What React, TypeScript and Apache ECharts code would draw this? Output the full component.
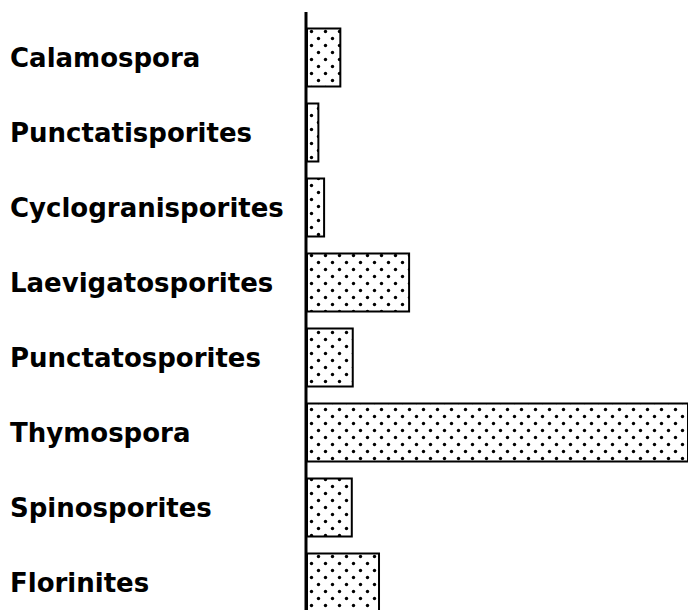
import React, { useEffect, useRef } from "react";
import * as echarts from "echarts";

const categories = [
  "Calamospora",
  "Punctatisporites",
  "Cyclogranisporites",
  "Laevigatosporites",
  "Punctatosporites",
  "Thymospora",
  "Spinosporites",
  "Florinites",
];
const values = [7.4, 2.8, 4.0, 21.8, 10.0, 85, 9.8, 15.5];
const xMax = 80;

function makeDots(): HTMLCanvasElement {
  const c = document.createElement("canvas");
  c.width = 14;
  c.height = 14;
  const ctx = c.getContext("2d")!;
  ctx.fillStyle = "#ffffff";
  ctx.fillRect(0, 0, 14, 14);
  ctx.fillStyle = "#000000";
  const pts = [
    [3.5, 3.5],
    [10.5, 10.5],
  ];
  for (const [x, y] of pts) {
    ctx.beginPath();
    ctx.arc(x, y, 1.7, 0, Math.PI * 2);
    ctx.fill();
  }
  return c;
}

export default function App() {
  const ref = useRef<HTMLDivElement>(null);
  useEffect(() => {
    if (!ref.current) return;
    const chart = echarts.init(ref.current, null, { renderer: "svg" });
    const dots = makeDots();
    chart.setOption({
      animation: false,
      backgroundColor: "#ffffff",
      grid: { left: 306, top: 20, right: 0, bottom: 0, containLabel: false },
      xAxis: {
        type: "value",
        min: 0,
        max: xMax,
        show: false,
        splitLine: { show: false },
      },
      yAxis: {
        type: "category",
        inverse: true,
        data: categories,
        axisLine: { show: false },
        axisTick: { show: false },
        axisLabel: {
          align: "left",
          margin: 296,
          color: "#000",
          fontFamily: "DejaVu Sans",
          fontWeight: "bold",
          fontSize: 26,
        },
      },
      graphic: [
        {
          type: "line",
          shape: { x1: 306, y1: 12, x2: 306, y2: 620 },
          style: { stroke: "#000", lineWidth: 3 },
          z: 100,
        },
      ],
      series: [
        {
          type: "bar",
          data: values,
          barWidth: 60,
          clip: true,
          itemStyle: {
            color: {
              image: dots,
              repeat: "repeat",
              imageWidth: 14,
              imageHeight: 14,
            } as any,
            borderColor: "#000",
            borderWidth: 2,
          },
        },
      ],
    });
    return () => chart.dispose();
  }, []);
  return (
    <div
      ref={ref}
      style={{ position: "absolute", left: 0, top: 0, width: 688, height: 620 }}
    />
  );
}
